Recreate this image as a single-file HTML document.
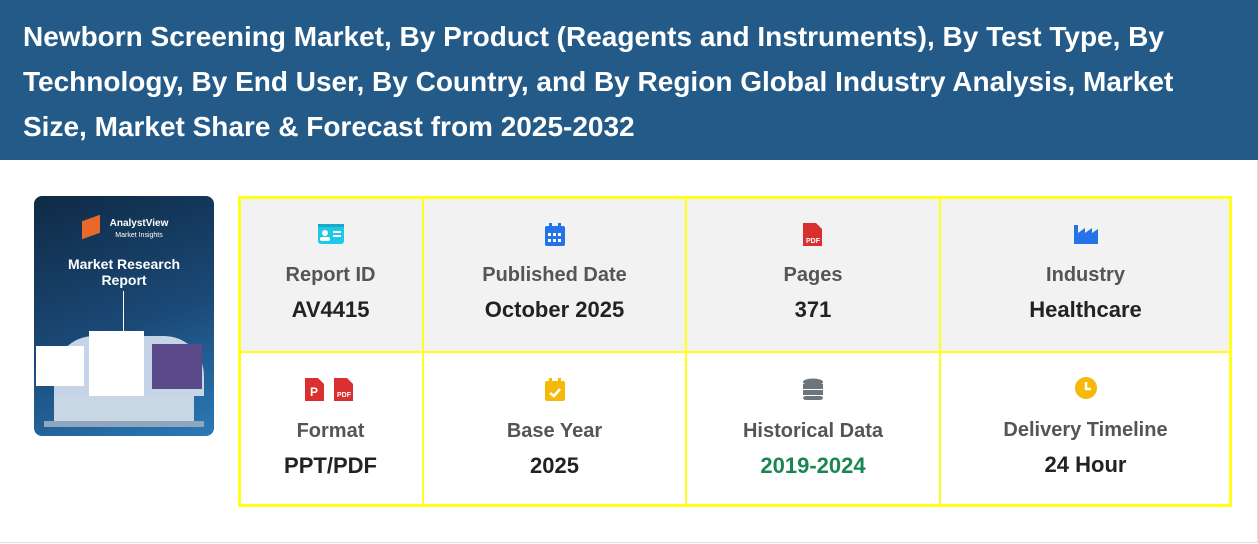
<!DOCTYPE html>
<html><head><meta charset="utf-8"><style>
*{margin:0;padding:0;box-sizing:border-box}
body{width:1258px;height:544px;background:#fff;font-family:"Liberation Sans",sans-serif;position:relative;overflow:hidden}
.hdr{position:absolute;left:0;top:0;width:1258px;height:160px;background:#235a87;color:#fff;font-weight:bold;font-size:28px;line-height:45px;padding:14px 0 0 23px}
.frame{position:absolute;left:0;top:160px;width:1258px;height:383px;border-bottom:1px solid #ddd;border-right:1px solid #ddd}
.book{position:absolute;left:34px;top:196px;width:180px;height:240px;border-radius:8px;overflow:hidden;background:linear-gradient(160deg,#0f2a45 0%,#1b4a78 55%,#2a7ab8 100%)}
.book .t{position:absolute;left:0;width:180px;text-align:center;color:#fff;font-weight:bold}
.c{position:absolute;text-align:center}
.top{background:#f2f2f2}
.ic{position:absolute;left:0;right:0;height:24px}
.lb{position:absolute;left:0;right:0;font-size:20px;font-weight:bold;color:#555}
.vl{position:absolute;left:0;right:0;font-size:22px;font-weight:bold;color:#222}
.y{position:absolute;background:#ffff1a}
</style></head><body>
<div class="hdr">Newborn Screening Market, By Product (Reagents and Instruments), By Test Type, By<br>Technology, By End User, By Country, and By Region Global Industry Analysis, Market<br>Size, Market Share &amp; Forecast from 2025-2032</div>
<div class="frame"></div>
<div class="book">
 <div style="position:absolute;left:48px;top:22px;width:18px;height:18px;background:#e8692a;transform:skewY(-20deg)"></div>
 <div class="t" style="top:22px;font-size:10px;padding-left:30px">AnalystView<br><span style="font-size:7px;font-weight:normal">Market Insights</span></div>
 <div class="t" style="top:60px;font-size:14px;line-height:16px">Market Research<br>Report</div>
 <div style="position:absolute;left:89px;top:95px;width:1px;height:40px;background:#fff"></div>
 <div style="position:absolute;left:20px;top:140px;width:150px;height:60px;background:#c5d4e6;border-radius:40px 40px 0 0"></div>
 <div style="position:absolute;left:2px;top:150px;width:48px;height:40px;background:#fff"></div>
 <div style="position:absolute;left:55px;top:135px;width:55px;height:70px;background:#fff"></div>
 <div style="position:absolute;left:118px;top:148px;width:50px;height:45px;background:#5a4a8a"></div>
 <div style="position:absolute;left:20px;top:200px;width:140px;height:25px;background:#c9d6e4"></div>
 <div style="position:absolute;left:10px;top:225px;width:160px;height:6px;background:#8fa6bf"></div>
</div>

<div class="c top" style="left:238px;top:196px;width:185px;height:156px"><div class="ic" style="top:27px"><svg width="28" height="22" viewBox="0 0 28 22"><rect x="1" y="1" width="26" height="20" rx="3" fill="#1ec8e8"/><rect x="1" y="1" width="26" height="3" fill="#1aa9c4"/><circle cx="8" cy="10" r="3" fill="#fff"/><rect x="3" y="14" width="10" height="4" rx="2" fill="#fff"/><rect x="16" y="8" width="8" height="2" fill="#fff"/><rect x="16" y="12" width="8" height="2" fill="#fff"/></svg></div><div class="lb" style="top:68px">Report ID</div><div class="vl" style="top:101px">AV4415</div></div>
<div class="c top" style="left:423px;top:196px;width:263px;height:156px"><div class="ic" style="top:27px"><svg width="22" height="24" viewBox="0 0 22 24"><rect x="1" y="3" width="20" height="20" rx="2" fill="#2573e8"/><rect x="5" y="0" width="3" height="6" fill="#2573e8"/><rect x="14" y="0" width="3" height="6" fill="#2573e8"/><g fill="#fff"><rect x="4" y="10" width="3" height="3"/><rect x="9" y="10" width="3" height="3"/><rect x="14" y="10" width="3" height="3"/><rect x="4" y="16" width="3" height="3"/><rect x="9" y="16" width="3" height="3"/><rect x="14" y="16" width="3" height="3"/></g></svg></div><div class="lb" style="top:68px">Published Date</div><div class="vl" style="top:101px">October 2025</div></div>
<div class="c top" style="left:686px;top:196px;width:254px;height:156px"><div class="ic" style="top:25px"><svg width="22" height="26" viewBox="0 0 22 26"><path d="M1 2h13l6 6v17H1z" fill="#d9302f"/><text x="11" y="22" font-size="7" font-weight="bold" fill="#fff" text-anchor="middle" font-family="Liberation Sans">PDF</text></svg></div><div class="lb" style="top:68px">Pages</div><div class="vl" style="top:101px">371</div></div>
<div class="c top" style="left:940px;top:196px;width:291px;height:156px"><div class="ic" style="top:27px"><svg width="26" height="22" viewBox="0 0 26 22"><path d="M1 2h4v8l7-5v5l7-5v5l6-4v15H1z" fill="#2573e8"/></svg></div><div class="lb" style="top:68px">Industry</div><div class="vl" style="top:101px">Healthcare</div></div>
<div class="c" style="left:238px;top:352px;width:185px;height:155px"><div class="ic" style="top:24px"><svg width="56" height="26" viewBox="0 0 56 26"><path d="M2 2h13l6 6v17H2z" fill="#d9302f"/><text x="11" y="20" font-size="12" font-weight="bold" fill="#fff" text-anchor="middle" font-family="Liberation Sans">P</text><path d="M31 2h13l6 6v17H31z" fill="#d9302f"/><text x="41" y="21" font-size="7" font-weight="bold" fill="#fff" text-anchor="middle" font-family="Liberation Sans">PDF</text></svg></div><div class="lb" style="top:68px">Format</div><div class="vl" style="top:101px">PPT/PDF</div></div>
<div class="c" style="left:423px;top:352px;width:263px;height:155px"><div class="ic" style="top:26px"><svg width="22" height="24" viewBox="0 0 22 24"><rect x="1" y="3" width="20" height="20" rx="2" fill="#f5b90a"/><rect x="5" y="0" width="3" height="6" fill="#f5b90a"/><rect x="14" y="0" width="3" height="6" fill="#f5b90a"/><path d="M6 15l4 3 6-7" stroke="#fff" stroke-width="2.5" fill="none"/></svg></div><div class="lb" style="top:68px">Base Year</div><div class="vl" style="top:101px">2025</div></div>
<div class="c" style="left:686px;top:352px;width:254px;height:155px"><div class="ic" style="top:26px"><svg width="22" height="24" viewBox="0 0 22 24"><ellipse cx="11" cy="4" rx="10" ry="3.5" fill="#6c757d"/><rect x="1" y="6" width="20" height="5" fill="#6c757d"/><rect x="1" y="12" width="20" height="5" fill="#6c757d"/><rect x="1" y="18" width="20" height="4" rx="3" fill="#6c757d"/></svg></div><div class="lb" style="top:68px">Historical Data</div><div class="vl" style="top:101px;color:#198754">2019-2024</div></div>
<div class="c" style="left:940px;top:352px;width:291px;height:155px"><div class="ic" style="top:24px"><svg width="24" height="24" viewBox="0 0 24 24"><circle cx="12" cy="12" r="11" fill="#f5b90a"/><path d="M12 6v7h5" stroke="#fff" stroke-width="2.5" fill="none"/></svg></div><div class="lb" style="top:67px">Delivery Timeline</div><div class="vl" style="top:100px">24 Hour</div></div>

<div class="y" style="left:238px;top:196px;width:994px;height:3px"></div>
<div class="y" style="left:238px;top:504px;width:994px;height:3px"></div>
<div class="y" style="left:238px;top:196px;width:3px;height:311px"></div>
<div class="y" style="left:1229px;top:196px;width:3px;height:311px"></div>
<div class="y" style="left:238px;top:351px;width:994px;height:2px"></div>
<div class="y" style="left:422px;top:196px;width:2px;height:311px"></div>
<div class="y" style="left:685px;top:196px;width:2px;height:311px"></div>
<div class="y" style="left:939px;top:196px;width:2px;height:311px"></div>
</body></html>
